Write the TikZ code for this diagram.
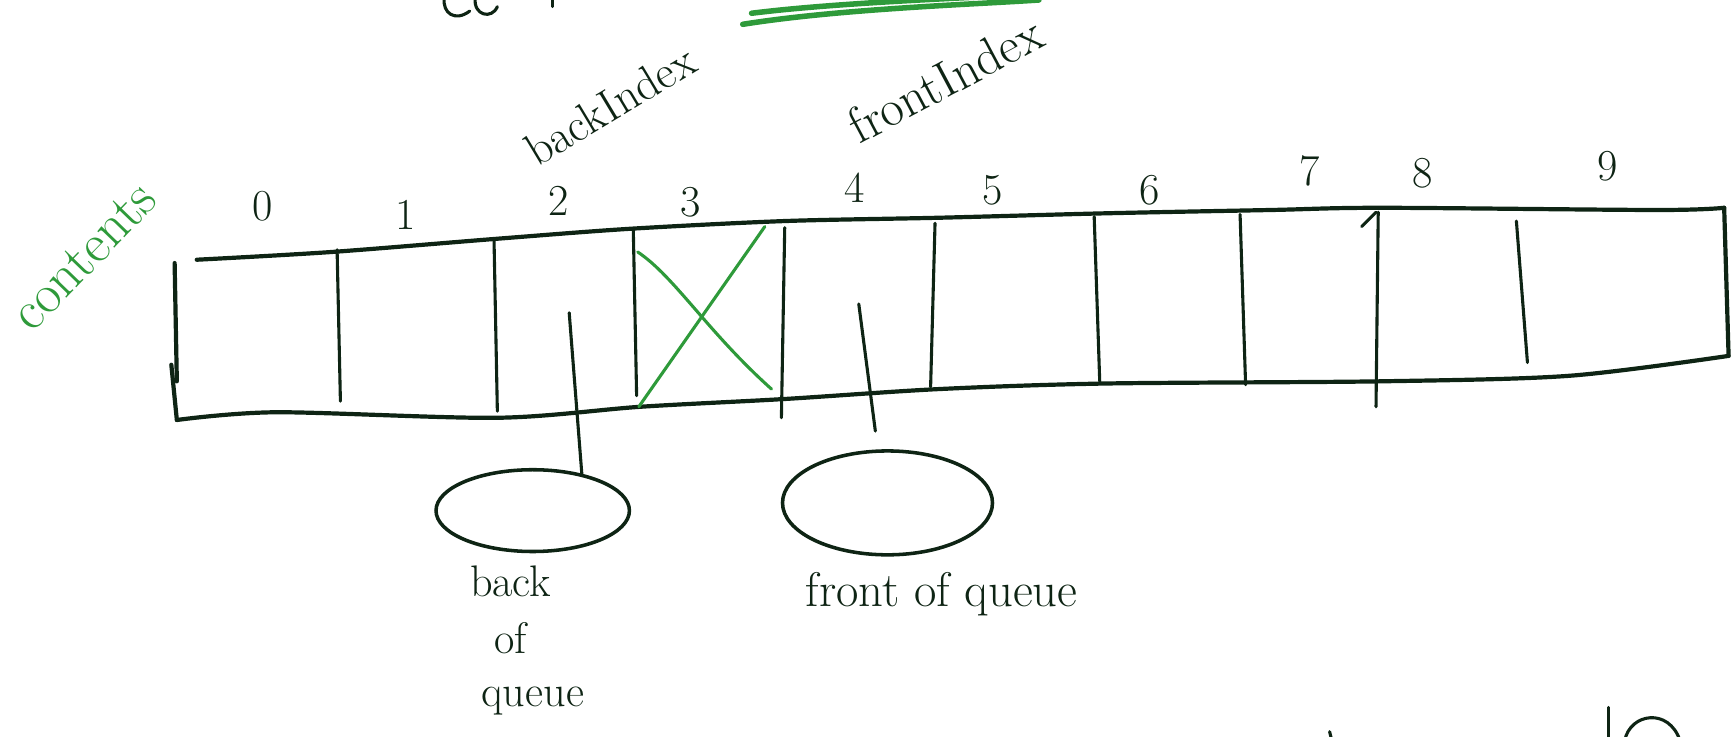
\documentclass[tikz,border=0pt]{standalone}
\usetikzlibrary{shapes.geometric}
\definecolor{ink}{HTML}{0E2414}
\definecolor{gink}{HTML}{2E9A3A}
\tikzset{
  outline/.style={draw=ink, line width=3.8pt, line cap=round, line join=round},
  divider/.style={draw=ink, line width=2.8pt, line cap=round},
  gstroke/.style={draw=gink, line width=2.8pt, line cap=round},
  varbox/.style={ellipse, draw=ink, line width=3.2pt, inner sep=0pt},
  idx/.style={text=ink, font=\fontsize{40}{40}\selectfont},
  lbl/.style={text=ink, font=\fontsize{40}{44}\selectfont},
}
\begin{document}
\begin{tikzpicture}[x=1pt,y=-1pt]
\useasboundingbox (0,0) rectangle (1568,666);
\begin{scope}
\clip (0,0) rectangle (1568,666);
% array outline
\draw[outline] (158,238) -- (160,345);
\draw[outline] (155,330) -- (160,380);
\draw[outline] plot[smooth, tension=0.5] coordinates {(178,235) (300,228) (450,216) (570,207) (710,200) (850,197) (1000,193) (1150,190) (1250,188) (1500,190) (1560,188)};
\draw[outline] (1560,188) -- (1564,322);
\draw[outline] plot[smooth, tension=0.5] coordinates {(160,380) (250,373) (450,378) (580,368) (710,361) (850,352) (1000,347) (1250,345) (1420,340) (1564,322)};
% dividers
\foreach \xa/\ya/\xb/\yb in {305/226/308/363, 447/218/450/372, 573/208/576/358, 710/206/707/378, 846/202/842/350, 990/196/995/345, 1122/194/1127/348, 1247/192/1245/368, 1372/200/1382/328}
  \draw[divider] (\xa,\ya) -- (\xb,\yb);
\draw[divider] (1232,205) -- (1245,192);
% crossed-out cell 3
\draw[gstroke] (577,228) .. controls (610,250) and (640,300) .. (698,352);
\draw[gstroke] (578,368) -- (692,205);
% index numbers
\foreach \n/\x/\y in {0/238/187, 1/367/194, 2/505/182, 3/625/183, 4/773/170, 5/898/172, 6/1040/172, 7/1185/155, 8/1287/157, 9/1455/150}
  \node[idx] (i\n) at (\x,\y) {\n};
% variables
\node[varbox, minimum width=175pt, minimum height=74pt] (backvar) at (482,462) {};
\node[varbox, minimum width=190pt, minimum height=94pt] (frontvar) at (803,455) {};
\coordinate (bp) at (515,283);
\coordinate (fp) at (777,275);
\coordinate (fpend) at (792,390);
\draw[divider] (bp) -- (backvar.37);
\draw[divider] (fp) -- (fpend);
% labels
\node[lbl, rotate=31, font=\fontsize{42}{44}\selectfont] (backidx) at (552,95) {backIndex};
\node[lbl, rotate=28, font=\fontsize{46}{48}\selectfont] (frontidx) at (855,72) {frontIndex};
\node[text=gink, font=\fontsize{50}{50}\selectfont, rotate=46] (contents) at (76,232) {contents};
\node[lbl, align=center, anchor=north] (backq) at (462,508) {back\\[8pt]of\\[4pt]\hspace*{40pt}queue};
\node[lbl, font=\fontsize{44}{48}\selectfont] (frontq) at (852,538) {front of queue};
% cut-off fragments at top and bottom
\draw[divider] (402,-2) .. controls (400,12) and (412,20) .. (425,10);
\draw[divider] (430,-2) .. controls (428,14) and (445,18) .. (450,6);
\draw[divider] (500,0) -- (500,6);
\draw[gstroke, line width=5pt] (680,12) .. controls (760,2) and (880,-2) .. (950,-6);
\draw[gstroke, line width=5pt] (672,22) .. controls (760,8) and (880,4) .. (940,0);
\draw[divider] (1203,662) -- (1205,670);
\draw[divider] (1455,640) -- (1455,670);
\draw[divider] (1470,670) .. controls (1475,645) and (1510,640) .. (1520,670);
\end{scope}
\end{tikzpicture}
\end{document}
